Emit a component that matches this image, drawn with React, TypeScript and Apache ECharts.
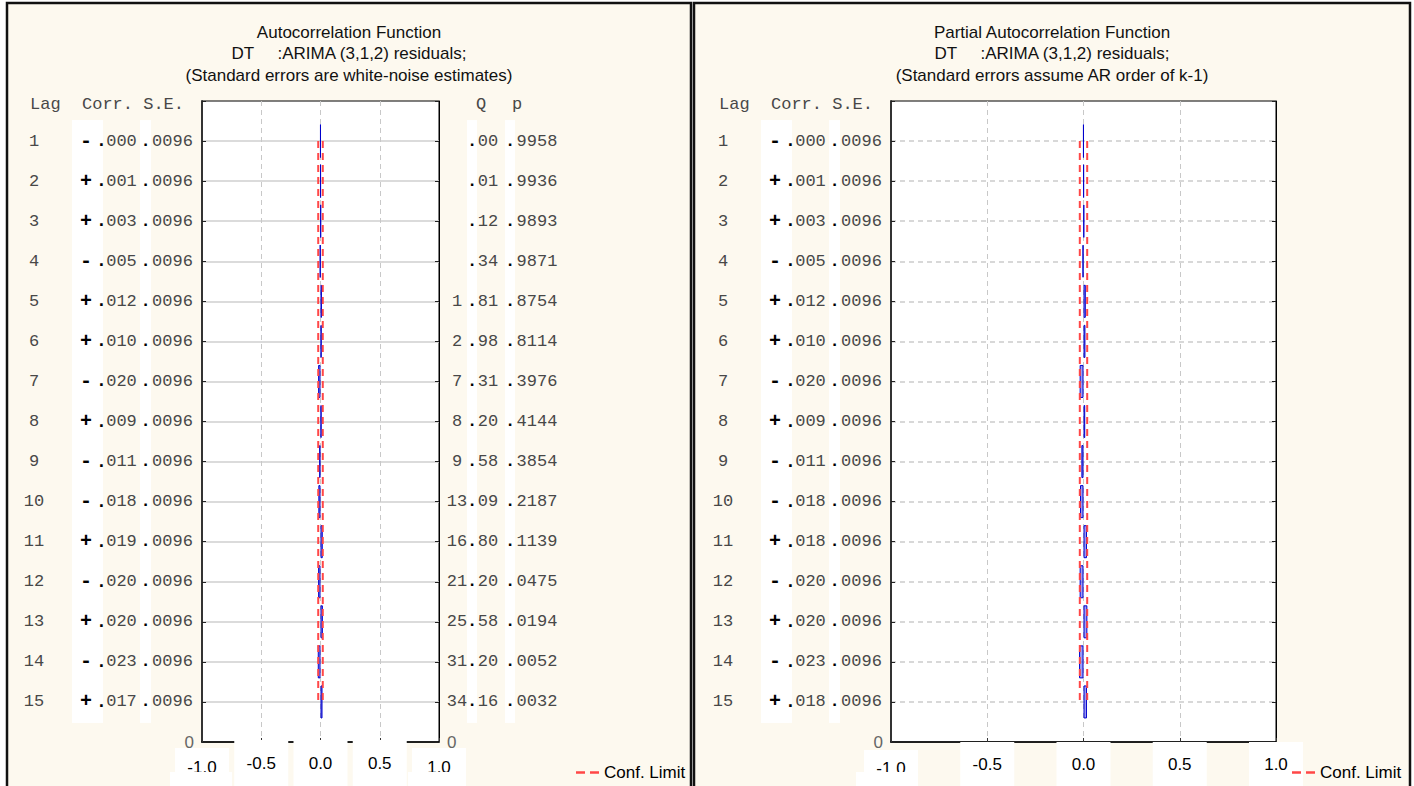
import React, { useEffect, useRef } from 'react';
import * as echarts from 'echarts';

const lags = [1, 2, 3, 4, 5, 6, 7, 8, 9, 10, 11, 12, 13, 14, 15];
const acfCorr = [-0.0004, 0.001, 0.003, -0.005, 0.012, 0.010, -0.020, 0.009, -0.011, -0.018, 0.019, -0.020, 0.020, -0.023, 0.017];
const acfSE = [0.0096, 0.0096, 0.0096, 0.0096, 0.0096, 0.0096, 0.0096, 0.0096, 0.0096, 0.0096, 0.0096, 0.0096, 0.0096, 0.0096, 0.0096];
const acfQ = [0.00, 0.01, 0.12, 0.34, 1.81, 2.98, 7.31, 8.20, 9.58, 13.09, 16.80, 21.20, 25.58, 31.20, 34.16];
const acfP = [0.9958, 0.9936, 0.9893, 0.9871, 0.8754, 0.8114, 0.3976, 0.4144, 0.3854, 0.2187, 0.1139, 0.0475, 0.0194, 0.0052, 0.0032];
const pacfCorr = [-0.0004, 0.001, 0.003, -0.005, 0.012, 0.010, -0.020, 0.009, -0.011, -0.018, 0.018, -0.020, 0.020, -0.023, 0.018];
const pacfSE = [0.0096, 0.0096, 0.0096, 0.0096, 0.0096, 0.0096, 0.0096, 0.0096, 0.0096, 0.0096, 0.0096, 0.0096, 0.0096, 0.0096, 0.0096];
// y categories bottom -> top: 0, lag 15 ... lag 1, top edge
const yCategories = ['0', '15', '14', '13', '12', '11', '10', '9', '8', '7', '6', '5', '4', '3', '2', '1', ''];

const acfTitle = ['Autocorrelation Function', 'DT     :ARIMA (3,1,2) residuals;', '(Standard errors are white-noise estimates)'];
const pacfTitle = ['Partial Autocorrelation Function', 'DT     :ARIMA (3,1,2) residuals;', '(Standard errors assume AR order of k-1)'];

const MONO = "'Liberation Mono', 'DejaVu Sans Mono', monospace";
const SANS = "'Liberation Sans', Arial, sans-serif";
const TXT = '#484848';
const CREAM = '#fdf9ef';
const RED = '#ff4747';

const tableRich = {
  lag: { fontFamily: MONO, fontSize: 17, color: TXT, width: 40, align: 'right', height: 42 },
  gap: { fontFamily: MONO, fontSize: 17, width: 18, height: 42 },
  sign: { fontFamily: MONO, fontSize: 20, fontWeight: 'bold', color: '#000', width: 28, align: 'right', height: 42, backgroundColor: '#fff' },
  cd: { fontFamily: MONO, fontSize: 18, fontWeight: 'bold', color: '#000', width: 3, align: 'center', height: 42, backgroundColor: '#fff' },
  num: { fontFamily: MONO, fontSize: 17, color: TXT, width: 37, align: 'left', height: 42 },
  sd: { fontFamily: MONO, fontSize: 17, fontWeight: 'bold', color: '#000', width: 11, align: 'right', height: 42, backgroundColor: '#fff' },
  se: { fontFamily: MONO, fontSize: 17, color: TXT, width: 43, align: 'left', height: 42 },
  zero: { fontFamily: SANS, fontSize: 17, color: '#666' },
};

const qpRich = {
  qi: { fontFamily: MONO, fontSize: 17, color: TXT, width: 20, align: 'right', height: 42 },
  qd: { fontFamily: MONO, fontSize: 17, fontWeight: 'bold', color: '#000', width: 10, align: 'right', height: 42, backgroundColor: '#fff' },
  qf: { fontFamily: MONO, fontSize: 17, color: TXT, width: 22, align: 'left', height: 42 },
  sp: { fontFamily: MONO, fontSize: 17, width: 6, height: 42 },
  pd: { fontFamily: MONO, fontSize: 17, fontWeight: 'bold', color: '#000', width: 10, align: 'right', height: 42, backgroundColor: '#fff' },
  pf: { fontFamily: MONO, fontSize: 17, color: TXT, width: 44, align: 'left', height: 42 },
  zero: { fontFamily: SANS, fontSize: 17, color: '#666' },
};

const xRich = (mHeight: number) => ({
  m: { fontFamily: SANS, fontSize: 17, color: '#000', backgroundColor: '#fff', width: 54, height: mHeight, align: 'center' },
  e: { fontFamily: SANS, fontSize: 17, color: '#000', backgroundColor: '#fff', width: 54, height: mHeight - 8, align: 'center' },
  sp: { fontSize: 1, height: 8, lineHeight: 8 },
});

function tableLabel(corr: number[], se: number[]) {
  return (value: string) => {
    if (value === '0') return '{zero|0}';
    if (value === '') return '';
    const k = Number(value);
    const i = lags.indexOf(k);
    const c = corr[i];
    const sign = c < 0 ? '-' : '+';
    const digits = Math.abs(c).toFixed(3).slice(2);
    const s = se[i].toFixed(4).slice(2);
    return `{lag|${k}}{gap| }{sign|${sign}}{cd|.}{num|${digits}}{sd|.}{se|${s}}`;
  };
}

function qpLabel(q: number[], p: number[]) {
  return (value: string) => {
    if (value === '0') return '{zero|0}';
    if (value === '') return '';
    const i = lags.indexOf(Number(value));
    const [qi, qf] = q[i].toFixed(2).split('.');
    const qInt = qi === '0' ? ' ' : qi;
    const pf = p[i].toFixed(4).slice(2);
    return `{qi|${qInt}}{qd|.}{qf|${qf}}{sp| }{pd|.}{pf|${pf}}`;
  };
}

function barData(corr: number[]) {
  return lags.map((k, i) => [corr[i], String(k)]);
}
function confData(se: number[], s: number) {
  return lags.map((k, i) => [s * 2 * se[i], String(k)]);
}

const barStyle = { color: 'rgba(80,80,235,0.55)', borderColor: '#0000cc', borderWidth: 1 };
const confStyle = { color: RED, width: 2, type: [7, 5] as any };
const innerRows = (index: number) => index !== 0 && index !== yCategories.length - 1;

function titleTexts(lines: string[], cx: number) {
  return lines.map((t, i) => ({
    type: 'text',
    z: 10,
    style: {
      text: t, x: cx, y: 32 + i * 21.5, fill: '#111',
      font: `17px ${SANS}`, textAlign: 'center', textVerticalAlign: 'middle', align: 'center', verticalAlign: 'middle',
    },
  }));
}
function headerText(t: string, x: number) {
  return {
    type: 'text', z: 10,
    style: { text: t, x, y: 104, fill: TXT, font: `17px ${MONO}`, textVerticalAlign: 'middle', verticalAlign: 'middle' },
  };
}

const legendBase = {
  data: [{ name: 'Conf. Limit', icon: 'path://M0 0h9v2.4H0z M14 0h9v2.4h-9z' }],
  top: 764, itemWidth: 23, itemHeight: 3, itemGap: 4, padding: 0,
  itemStyle: { color: RED },
  textStyle: { fontFamily: SANS, fontSize: 17, color: '#000' },
};

export default function App() {
  const ref = useRef<HTMLDivElement>(null);
  useEffect(() => {
    if (!ref.current) return;
    const chart = echarts.init(ref.current, null, { renderer: 'svg' });
    const yBase = (gridIndex: number, position: string) => ({
      type: 'category', gridIndex, position, data: yCategories, boundaryGap: false,
      axisTick: { show: true, inside: true, length: 4, interval: 0, lineStyle: { color: '#222' } },
    });
    const option: any = {
      animation: false,
      backgroundColor: '#fff',
      graphic: [
        { type: 'rect', z: -10, shape: { x: 7, y: 3, width: 684, height: 800 }, style: { fill: CREAM, stroke: '#111', lineWidth: 2.5 } },
        { type: 'rect', z: -10, shape: { x: 694, y: 3, width: 716, height: 800 }, style: { fill: CREAM, stroke: '#111', lineWidth: 2.5 } },
        ...titleTexts(acfTitle, 349),
        ...titleTexts(pacfTitle, 1052),
        headerText('Lag', 30), headerText('Corr. S.E.', 82),
        headerText('Q', 476), headerText('p', 512),
        headerText('Lag', 719), headerText('Corr. S.E.', 771),
        { type: 'rect', z: 100, shape: { x: 170, y: 772, width: 62, height: 20 }, style: { fill: '#fff' } },
        { type: 'rect', z: 100, shape: { x: 408, y: 772, width: 58, height: 20 }, style: { fill: '#fff' } },
        { type: 'rect', z: 100, shape: { x: 856, y: 772, width: 58, height: 20 }, style: { fill: '#fff' } },
      ],
      legend: [
        { ...legendBase, left: 576 },
        { ...legendBase, left: 1292 },
      ],
      grid: [
        { left: 202, top: 101, width: 237, height: 643, show: true, backgroundColor: '#fff', borderColor: '#000', borderWidth: 1 },
        { left: 891, top: 101, width: 385, height: 643, show: true, backgroundColor: '#fff', borderColor: '#000', borderWidth: 1 },
      ],
      xAxis: [
        {
          type: 'value', gridIndex: 0, min: -1, max: 1, interval: 0.5,
          axisLine: { show: true, onZero: false, lineStyle: { color: '#000', width: 1.5 } },
          axisTick: { show: true, inside: true, length: 4, lineStyle: { color: '#333' } },
          splitLine: { show: true, lineStyle: { color: '#c8c8c8', type: [5, 4] } },
          axisLabel: {
            margin: -2,
            formatter: (v: number) => (Math.abs(v) === 1 ? `{sp| }\n{e|${v.toFixed(1)}}` : `{m|${v.toFixed(1)}}`),
            rich: xRich(46),
          },
        },
        {
          type: 'value', gridIndex: 1, min: -1, max: 1, interval: 0.5,
          axisLine: { show: true, onZero: false, lineStyle: { color: '#000', width: 1.5 } },
          axisTick: { show: true, inside: true, length: 4, lineStyle: { color: '#333' } },
          splitLine: { show: true, lineStyle: { color: '#c8c8c8', type: [5, 4] } },
          axisLabel: {
            margin: 0,
            formatter: (v: number) => (v === -1 ? `{sp| }\n{e|${v.toFixed(1)}}` : `{m|${v.toFixed(1)}}`),
            rich: xRich(44),
          },
        },
      ],
      yAxis: [
        {
          ...yBase(0, 'left'),
          axisLine: { show: true, onZero: false, lineStyle: { color: '#333', width: 2 } },
          splitLine: { show: true, interval: innerRows, lineStyle: { color: '#cfcfcf', width: 1.5 } },
          axisLabel: { interval: 0, margin: 8, formatter: tableLabel(acfCorr, acfSE), rich: tableRich },
        },
        {
          ...yBase(0, 'right'),
          axisLine: { show: true, onZero: false, lineStyle: { color: '#000', width: 1 } },
          splitLine: { show: false },
          axisLabel: { interval: 0, margin: 8, formatter: qpLabel(acfQ, acfP), rich: qpRich },
        },
        {
          ...yBase(1, 'left'),
          axisLine: { show: true, onZero: false, lineStyle: { color: '#333', width: 2 } },
          splitLine: { show: true, interval: innerRows, lineStyle: { color: '#cccccc', type: [5, 4], width: 1.5 } },
          axisLabel: { interval: 0, margin: 8, formatter: tableLabel(pacfCorr, pacfSE), rich: tableRich },
        },
        {
          ...yBase(1, 'right'),
          axisLine: { show: true, onZero: false, lineStyle: { color: '#000', width: 1 } },
          splitLine: { show: false },
          axisLabel: { show: false },
        },
      ],
      series: [
        { type: 'bar', name: 'ACF', xAxisIndex: 0, yAxisIndex: 0, barWidth: 33, data: barData(acfCorr), itemStyle: barStyle },
        { type: 'line', name: 'Conf. Limit', xAxisIndex: 0, yAxisIndex: 0, symbol: 'none', data: confData(acfSE, 1), lineStyle: confStyle, itemStyle: { color: RED } },
        { type: 'line', name: 'Conf. Limit', xAxisIndex: 0, yAxisIndex: 0, symbol: 'none', data: confData(acfSE, -1), lineStyle: confStyle, itemStyle: { color: RED } },
        { type: 'bar', name: 'PACF', xAxisIndex: 1, yAxisIndex: 2, barWidth: 33, data: barData(pacfCorr), itemStyle: barStyle },
        { type: 'line', name: 'Conf. Limit', xAxisIndex: 1, yAxisIndex: 2, symbol: 'none', data: confData(pacfSE, 1), lineStyle: confStyle, itemStyle: { color: RED } },
        { type: 'line', name: 'Conf. Limit', xAxisIndex: 1, yAxisIndex: 2, symbol: 'none', data: confData(pacfSE, -1), lineStyle: confStyle, itemStyle: { color: RED } },
      ],
    };
    chart.setOption(option);
    return () => chart.dispose();
  }, []);
  return <div ref={ref} style={{ position: 'fixed', left: 0, top: 0, width: 1414, height: 786 }} />;
}
